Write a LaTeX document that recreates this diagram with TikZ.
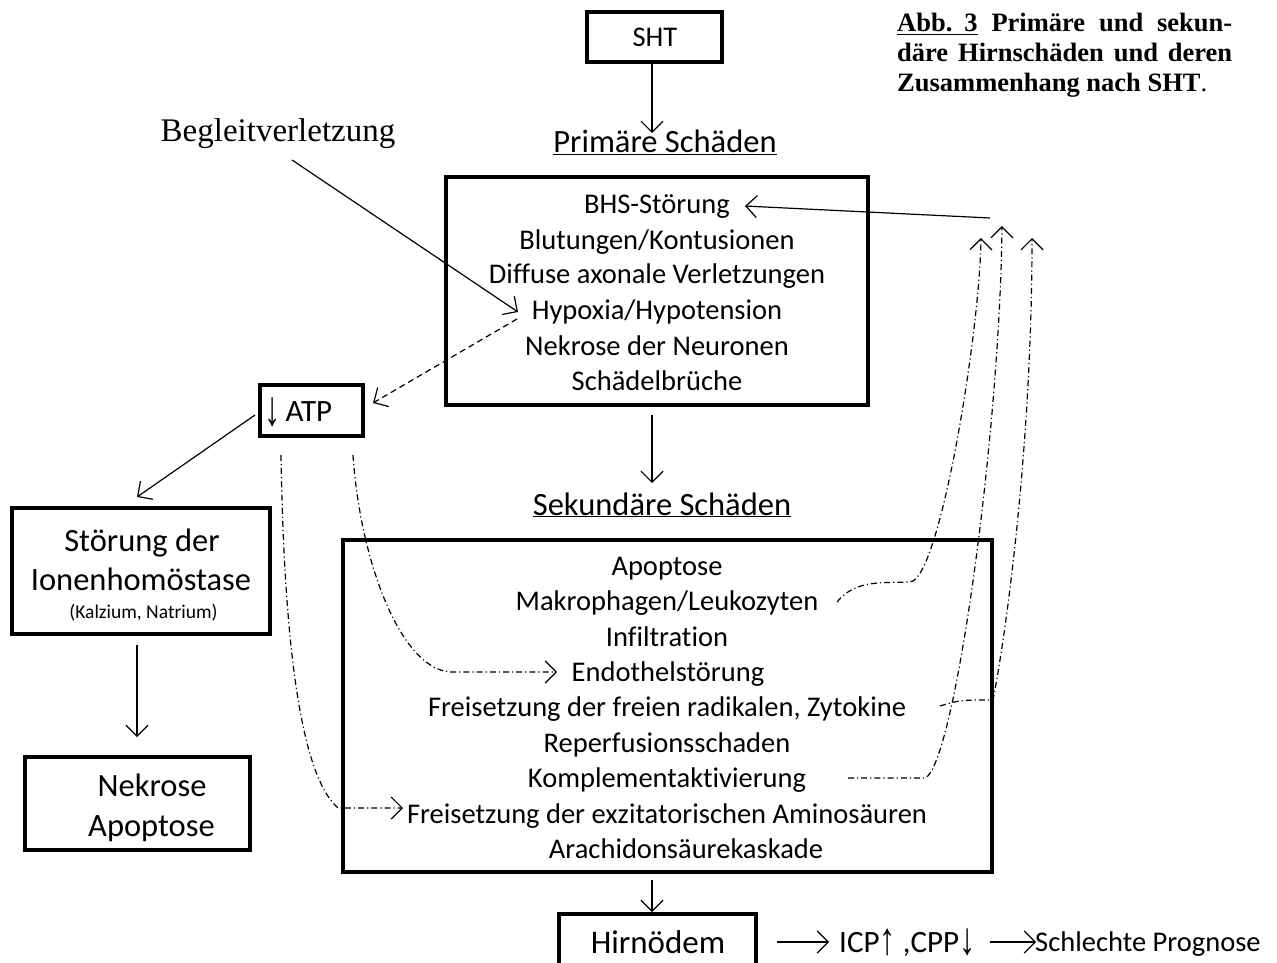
\documentclass[tikz,border=0pt]{standalone}
\usepackage{fontspec}
\usepackage{graphicx}
\setmainfont{Carlito}[Ligatures=CommonOff]
\newfontfamily\timesf{Liberation Serif}
\newfontfamily\arr{Liberation Sans}
\newcommand{\tallarrow}[1]{\raisebox{-4pt}{\scalebox{1.25}[1.9]{\arr\fontsize{26}{30}\selectfont #1}}}
\newcommand{\tallarrowb}[1]{\raisebox{-2pt}{\scalebox{1.25}[1.75]{\arr\fontsize{26}{30}\selectfont #1}}}
\usetikzlibrary{arrows.meta}
\begin{document}
\begin{tikzpicture}[x=1pt,y=-1pt,
  box/.style={draw, line width=3.3pt, inner sep=0pt},
  txt/.style={inner sep=0pt, anchor=base, font=\fontsize{28.5}{34}\selectfont},
  big/.style={inner sep=0pt, anchor=base, font=\fontsize{32.5}{38}\selectfont},
  conn/.style={line width=1.2pt, -{Straight Barb[length=11pt,width=22pt,line width=1.2pt]}},
  dashconn/.style={conn, dash pattern=on 6pt off 4pt},
  dd/.style={conn, dash pattern=on 6pt off 3pt on 1.2pt off 3pt},
  capt/.style={inner sep=0pt, anchor=base west, font=\fontsize{26.5}{30}\selectfont\timesf\bfseries}
]
\useasboundingbox (0,0) rectangle (1277,963);
\fill[white] (0,0) rectangle (1277,963);

% caption
\node[capt] (cap1) at (897,32) {\makebox[335pt][s]{\underline{Abb.\hspace{12pt}3} Primäre und sekun-}};
\node[capt] (cap2) at (897,62) {\makebox[335pt][s]{däre Hirnschäden und deren}};
\node[capt] (cap3) at (897,92) {Zusammenhang nach SHT{\mdseries .}};

% SHT
\node[box, minimum width=135pt, minimum height=50pt] (shtbox) at (654.5,37) {};
\node[txt] (sht) at (655,47) {SHT};
\node[big] (primt) at (665,153) {\underline{Primäre Schäden}};
\coordinate (pt1) at (652,133);
\draw[conn] (shtbox.south -| pt1) -- (pt1);

% Begleitverletzung
\node[inner sep=0pt, anchor=base, font=\fontsize{33}{38}\timesf] (begl) at (278,142) {Begleitverletzung};

% primary box
\node[box, minimum width=422pt, minimum height=228pt] (primbox) at (657,291) {};
\node[txt] (bhs) at (657,213) {BHS-Störung};
\node[txt] (blut) at (657,249) {Blutungen/Kontusionen};
\node[txt] (diff) at (657,283) {Diffuse axonale Verletzungen};
\node[txt] (hyp) at (657,319) {Hypoxia/Hypotension};
\node[txt] (nekn) at (657,355) {Nekrose der Neuronen};
\node[txt] (schaed) at (657,390) {Schädelbrüche};

\coordinate (bgs) at (292,160);
\coordinate (hypin) at (518,312);
\draw[conn] (bgs) -- (hypin);

% ATP
\node[box, minimum width=103pt, minimum height=51pt] (atpbox) at (311.5,410.5) {};
\node[inner sep=0pt, anchor=base west, font=\fontsize{31}{36}\selectfont] (atp) at (264,421) {\tallarrow{↓}\,ATP};
\coordinate (hypout) at (517,319);
\coordinate (atpin) at (373,403);
\draw[dashconn] (hypout) -- (atpin);

% primary -> secondary
\coordinate (p2a) at (652,415);
\coordinate (p2b) at (652,483);
\draw[conn] (p2a) -- (p2b);
\node[big] (sekt) at (662,515) {\underline{Sekundäre Schäden}};

% secondary box
\node[box, minimum width=649pt, minimum height=332pt] (sekbox) at (667.5,706) {};
\node[txt] (apo) at (667,575) {Apoptose};
\node[txt] (makro) at (667,610) {Makrophagen/Leukozyten};
\node[txt] (infil) at (667,646) {Infiltration};
\node[txt] (endo) at (668,681) {Endothelstörung};
\node[txt] (frad) at (667,716) {Freisetzung der freien radikalen, Zytokine};
\node[txt] (reperf) at (667,752) {Reperfusionsschaden};
\node[txt] (kompl) at (667,787) {Komplementaktivierung};
\node[txt] (fexz) at (667,823) {Freisetzung der exzitatorischen Aminosäuren};
\node[txt] (arach) at (686,858) {Arachidonsäurekaskade};

% Hirnoedem
\coordinate (p3a) at (652,880);
\coordinate (p3b) at (652,912);
\draw[conn] (p3a) -- (p3b);
\node[box, minimum width=197pt, minimum height=80pt] (hirnbox) at (657.5,954) {};
\node[inner sep=0pt, anchor=base, font=\fontsize{33}{38}\selectfont] (hirn) at (658,953) {Hirnödem};
\node[inner sep=0pt, anchor=base west, font=\fontsize{31}{36}\selectfont] (icp) at (839,952) {ICP\tallarrowb{↑} ,CPP\tallarrowb{↓}};
\node[inner sep=0pt, anchor=base west, font=\fontsize{28.5}{34}\selectfont] (prog) at (1035,951) {Schlechte Prognose};
\coordinate (h1) at (777,942);
\coordinate (h2) at (829,942);
\draw[conn] (h1) -- (h2);
\coordinate (h3) at (990,942);
\coordinate (h4) at (1036,942);
\draw[conn] (h3) -- (h4);

% Ionen / Nekrose
\node[box, minimum width=258pt, minimum height=126pt] (ionbox) at (141,571) {};
\node[big] (ion1) at (142,551) {Störung der};
\node[big] (ion2) at (141,590) {Ionenhomöstase};
\node[inner sep=0pt, anchor=base, font=\fontsize{19.5}{23}\selectfont] (ion3) at (143.5,618) {(Kalzium, Natrium)};
\node[box, minimum width=225pt, minimum height=93pt] (nekbox) at (137.5,803.5) {};
\node[big] (nek1) at (152,796) {Nekrose};
\node[big] (nek2) at (151.5,836) {Apoptose};

\coordinate (a1) at (255,415);
\coordinate (a2) at (137,497);
\draw[conn] (a1) -- (a2);
\coordinate (a3) at (137,645);
\coordinate (a4) at (137,737);
\draw[conn] (a3) -- (a4);

% ATP dash-dot curves
\coordinate (atpl) at (281,455);
\coordinate (atpr) at (353,455);
\coordinate (fexzin) at (403,808);
\coordinate (endoin) at (557,672);
\draw[dd] (atpl) .. controls (284,640) and (300,775) .. (338,808) -- (fexzin);
\draw[dd] (atpr) .. controls (360,560) and (400,668) .. (450,672) -- (endoin);

% right dash-dot curves
\coordinate (rtop) at (990,218);
\draw[conn] (rtop) -- ([xshift=15pt]bhs.east);
\coordinate (m0) at (837,602);
\coordinate (m1) at (910,582);
\coordinate (u1) at (981,238);
\draw[dd] (m0) .. controls (855,580) and (880,583) .. (m1) .. controls (940,580) and (980,330) .. (u1);
\coordinate (f0) at (940,706);
\coordinate (f1) at (993,700);
\coordinate (u3) at (1032,238);
\draw[dd] (f0) .. controls (960,700) .. (f1) .. controls (1005,640) and (1032,450) .. (u3);
\coordinate (k0) at (848,778);
\coordinate (k1) at (925,778);
\coordinate (u2) at (1002,226);
\draw[dd] (k0) -- (k1) .. controls (955,765) and (1000,430) .. (u2);
\end{tikzpicture}
\end{document}
